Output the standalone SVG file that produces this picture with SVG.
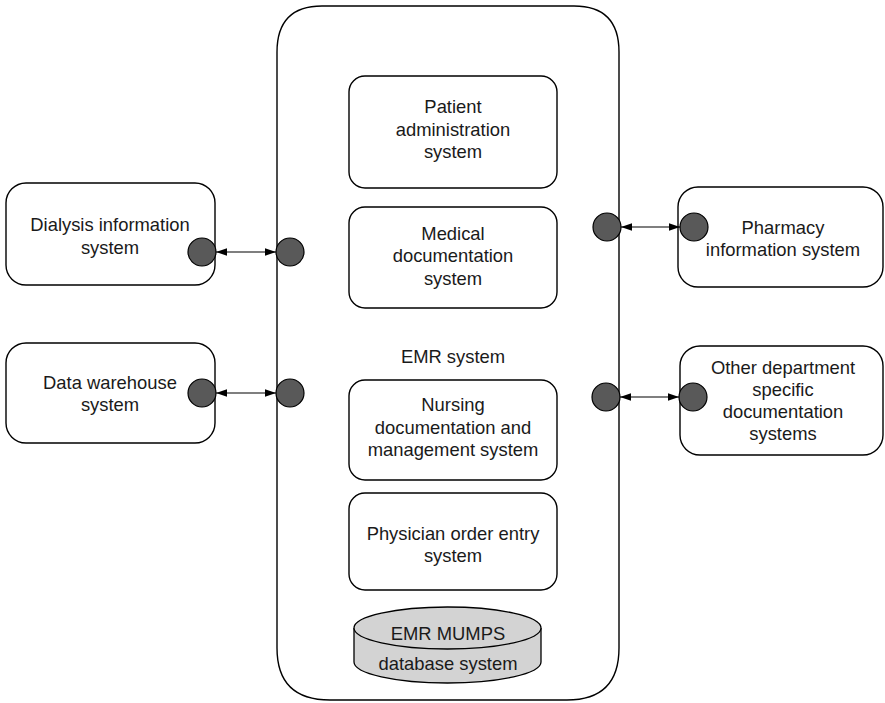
<svg xmlns="http://www.w3.org/2000/svg" width="885" height="703" viewBox="0 0 885 703">
<style>
  .box { fill: #ffffff; stroke: #000000; stroke-width: 1.4; }
  .port { fill: #595959; stroke: #000000; stroke-width: 1.2; }
  .lbl { font-family: "Liberation Sans", Arial, sans-serif; font-size: 18.4px; fill: #1a1a1a; text-anchor: middle; }
  .conn { stroke: #000000; stroke-width: 1.2; fill: none; marker-start: url(#ahS); marker-end: url(#ahE); }
  .db { fill: #d3d3d3; stroke: #000000; stroke-width: 1.3; }
</style>
<defs>
  <marker id="ahE" viewBox="0 0 10 10" refX="10" refY="5" markerWidth="11" markerHeight="11" markerUnits="userSpaceOnUse" orient="auto">
    <path d="M0,1.5 L10,5 L0,8.5 Z" fill="#000"/>
  </marker>
  <marker id="ahS" viewBox="0 0 10 10" refX="0" refY="5" markerWidth="11" markerHeight="11" markerUnits="userSpaceOnUse" orient="auto">
    <path d="M10,1.5 L0,5 L10,8.5 Z" fill="#000"/>
  </marker>
</defs>
<rect width="885" height="703" fill="#ffffff"/>

<g id="emr-system">
  <path class="box" d="M322,6 L574,6 Q619,6 619,52 L619,648 Q619,700 567,700 L330,700 Q277,700 277,648 L277,52 Q277,6 322,6 Z"/>
  <text class="lbl" x="453" y="363">EMR system</text>
</g>

<g id="patient-admin">
  <rect class="box" x="349" y="76" width="208" height="112" rx="16"/>
  <text class="lbl" x="453" y="113">Patient</text>
  <text class="lbl" x="453" y="136">administration</text>
  <text class="lbl" x="453" y="158">system</text>
</g>

<g id="medical-doc">
  <rect class="box" x="349" y="207" width="208" height="101" rx="16"/>
  <text class="lbl" x="453" y="240">Medical</text>
  <text class="lbl" x="453" y="262">documentation</text>
  <text class="lbl" x="453" y="285">system</text>
</g>

<g id="nursing-doc">
  <rect class="box" x="349" y="380" width="208" height="100" rx="16"/>
  <text class="lbl" x="453" y="411">Nursing</text>
  <text class="lbl" x="453" y="434">documentation and</text>
  <text class="lbl" x="453" y="456">management system</text>
</g>

<g id="physician-order">
  <rect class="box" x="349" y="493" width="208" height="97" rx="16"/>
  <text class="lbl" x="453" y="540">Physician order entry</text>
  <text class="lbl" x="453" y="562">system</text>
</g>

<g id="emr-mumps-db">
  <path class="db" d="M354,628 L354,662 A93.5,21 0 0 0 541,662 L541,628"/>
  <ellipse class="db" cx="447.5" cy="628" rx="93.5" ry="21"/>
  <text class="lbl" x="448" y="640">EMR MUMPS</text>
  <text class="lbl" x="448" y="670">database system</text>
</g>

<g id="dialysis">
  <rect class="box" x="6" y="183" width="209" height="102" rx="20"/>
  <text class="lbl" x="110" y="231">Dialysis information</text>
  <text class="lbl" x="110" y="254">system</text>
</g>

<g id="data-warehouse">
  <rect class="box" x="6" y="343" width="209" height="100" rx="20"/>
  <text class="lbl" x="110" y="389">Data warehouse</text>
  <text class="lbl" x="110" y="411">system</text>
</g>

<g id="pharmacy">
  <rect class="box" x="678" y="187" width="205" height="100" rx="20"/>
  <text class="lbl" x="783" y="234">Pharmacy</text>
  <text class="lbl" x="783" y="256">information system</text>
</g>

<g id="other-dept">
  <rect class="box" x="680" y="346" width="203" height="109" rx="20"/>
  <text class="lbl" x="783" y="374">Other department</text>
  <text class="lbl" x="783" y="396">specific</text>
  <text class="lbl" x="783" y="418">documentation</text>
  <text class="lbl" x="783" y="440">systems</text>
</g>

<g id="ports">
  <circle class="port" cx="202" cy="252" r="14"/>
  <circle class="port" cx="290" cy="252" r="14"/>
  <circle class="port" cx="202" cy="393" r="14"/>
  <circle class="port" cx="290" cy="393" r="14"/>
  <circle class="port" cx="607" cy="227" r="14"/>
  <circle class="port" cx="694" cy="227" r="14"/>
  <circle class="port" cx="606" cy="397" r="14"/>
  <circle class="port" cx="693" cy="397" r="14"/>
</g>

<g id="connectors">
  <line class="conn" x1="216" y1="252" x2="276" y2="252"/>
  <line class="conn" x1="216" y1="393" x2="276" y2="393"/>
  <line class="conn" x1="621" y1="227" x2="680" y2="227"/>
  <line class="conn" x1="620" y1="397" x2="679" y2="397"/>
</g>
</svg>
